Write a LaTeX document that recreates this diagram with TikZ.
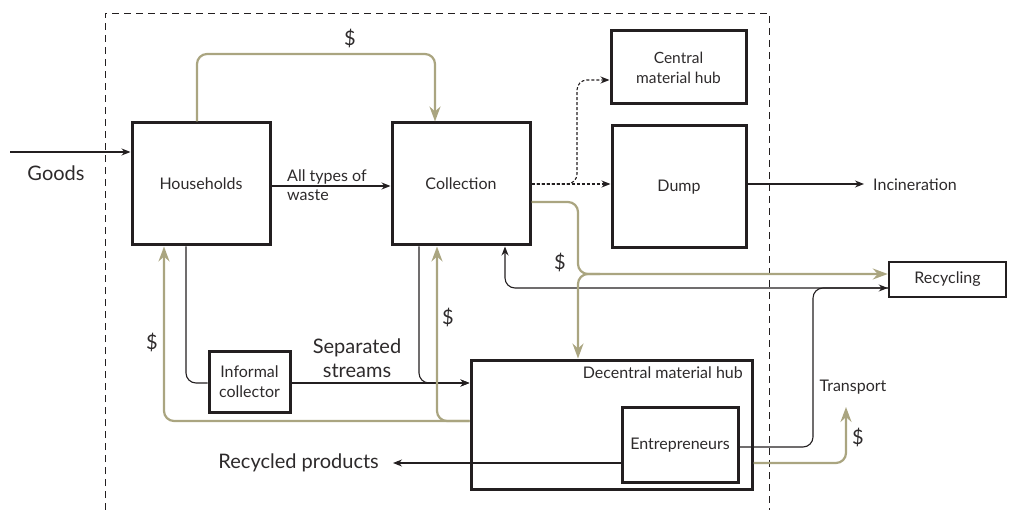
\documentclass[tikz,border=0pt]{standalone}
\usepackage{fontspec}
\setmainfont{Lato}
\usetikzlibrary{arrows.meta,calc}
\definecolor{gold}{RGB}{170,165,128}
\definecolor{ink}{RGB}{35,31,32}
\definecolor{txtc}{RGB}{45,42,43}
\begin{document}
\begin{tikzpicture}[x=1pt,y=-1pt,
  box/.style={draw=ink,line width=3pt,inner sep=0pt,align=center,text=txtc,font=\fontsize{16}{21}\selectfont},
  txt/.style={inner sep=0pt,text=txtc,font=\fontsize{16}{21}\selectfont},
  bigtxt/.style={inner sep=0pt,text=txtc,font=\fontsize{20}{24}\selectfont},
  blk/.style={draw=ink,line width=1.1pt,-{Stealth[length=9pt,width=7pt]},rounded corners=10pt},
  dsh/.style={blk,dash pattern=on 3pt off 2pt},
  gld/.style={draw=gold,line width=2.2pt,-{Stealth[length=15pt,width=11pt,inset=5pt]},rounded corners=10pt},
  plain/.style={draw=ink,line width=1.1pt,rounded corners=10pt}]
\useasboundingbox (0,0) rectangle (1016,510);
\draw[ink,line width=0.9pt,dash pattern=on 7pt off 5pt] (105,510) -- (105,13) -- (769,13) -- (769,510);

% boxes
\node[box,minimum width=138pt,minimum height=122pt] (H) at (201,184) {Households};
\node[box,minimum width=138pt,minimum height=122pt] (C) at (461,184) {Collection};
\node[box,minimum width=135pt,minimum height=73pt,font=\fontsize{15.5}{20}\selectfont] (CH) at (678.5,67.5) {Central\\material hub};
\node[box,minimum width=134pt,minimum height=122pt] (D) at (679,187) {Dump};
\node[box,minimum width=81pt,minimum height=61pt,font=\fontsize{16}{20}\selectfont] (I) at (249.5,381.5) {Informal\\collector};
\node[box,minimum width=281pt,minimum height=129pt] (DH) at (611.5,424.5) {};
\node[txt,anchor=east] (DHL) at (743,373) {Decentral material hub};
\node[box,minimum width=116pt,minimum height=75pt] (E) at (680,445) {Entrepreneurs};
\node[box,line width=2.5pt,minimum width=117pt,minimum height=35pt] (R) at (947.5,279.5) {Recycling};

% texts
\node[bigtxt] (G) at (56,173) {Goods};
\node[txt,align=left,anchor=west,font=\fontsize{16}{19}\selectfont] (AT) at (287,185) {All types of\\waste};
\node[txt,anchor=west] (Inc) at (873,185) {Incineration};
\node[bigtxt,align=center,font=\fontsize{20}{24}\selectfont] (SS) at (357,358) {Separated\\streams};
\node[bigtxt,anchor=east] (RP) at (379,463) {Recycled products};
\node[txt] (T) at (853,387) {Transport};
\node[bigtxt] (d1) at (350,38) {\$};
\node[bigtxt] (d2) at (560,262) {\$};
\node[bigtxt] (d3) at (152,342) {\$};
\node[bigtxt] (d4) at (448,317) {\$};
\node[bigtxt] (d5) at (858,437) {\$};

\coordinate (gin) at (10,152);
\coordinate (rpt) at (393,463);
\coordinate (tt) at (846,407);

% black connectors
\draw[blk] (gin) -- (gin -| H.west);
\draw[blk] (H.east |- 0,186) -- (C.west |- 0,186);
\draw[dsh] (C.east) -- (D.west |- C.east);
\draw[dsh] (C.east) -- (577,184) -- (577,80) -- (CH.west |- 0,80);
\draw[blk] (D.east |- 0,184) -- ([xshift=-9pt]Inc.west |- 0,184);
\draw[blk] (R.west |- 0,288) -- (505,288) -- (505,0 |- C.south);
\draw[blk] (E.east |- 0,447) -- (813,447) -- (813,288) -- (R.west |- 0,288);
\draw[blk] (E.west |- 0,463) -- (rpt);
\draw[plain] (186,0 |- H.south) -- (186,383) -- (I.west |- 0,383);
\draw[blk] (I.east |- 0,383) -- (DH.west |- 0,383);
\draw[blk] (419,0 |- C.south) -- (419,383) -- (DH.west |- 0,383);

% gold connectors
\draw[gld] (197,0 |- H.north) -- (197,54) -- (435,54) -- (435,0 |- C.north);
\draw[gld] (C.east |- 0,202) -- (578,202) -- (578,274) -- (R.west |- 0,274);
\draw[gld] (600,274) -- (578,274) -- (578,0 |- DH.north);
\draw[gld] (DH.east |- 0,463) -- (846,463) -- (tt);
\draw[gld] (DH.west |- 0,421) -- (164,421) -- (164,0 |- H.south);
\draw[gld] (DH.west |- 0,421) -- (437,421) -- (437,0 |- C.south);
\end{tikzpicture}
\end{document}
